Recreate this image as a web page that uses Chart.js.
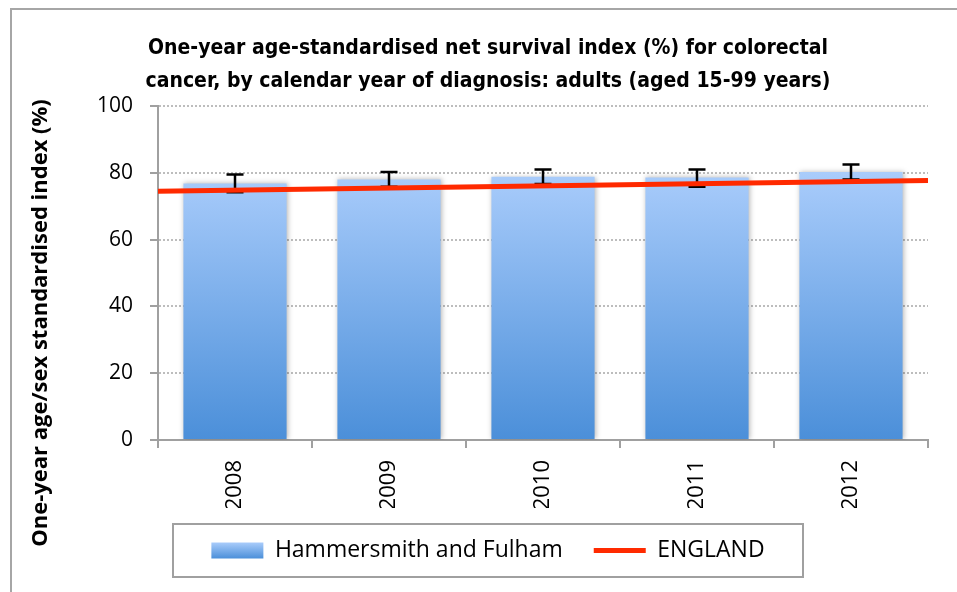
<!DOCTYPE html>
<html>
<head>
<meta charset="utf-8">
<script src="https://cdn.jsdelivr.net/npm/chart.js@4.4.1/dist/chart.umd.min.js"></script>
<style>
    body { margin: 0; background: #ffffff; }
    #frame {
        position: absolute; left: 10px; top: 8px; width: 960px; height: 600px;
        border: 2px solid #a6a6a6;
    }
    #wrap { position: absolute; left: 0; top: 0; width: 957px; height: 592px; }
</style>
</head>
<body>
<div id="frame"></div>
<div id="wrap"><canvas id="survival-chart"></canvas></div>
<script>
    // values
    const years = ['2008', '2009', '2010', '2011', '2012'];
    const localValues = [76.8, 78.0, 78.8, 78.6, 80.2];
    const localLower = [74.2, 75.8, 76.6, 75.8, 78.0];
    const localUpper = [79.5, 80.2, 81.0, 81.0, 82.5];
    const englandX = [2007.5, 2012.5];
    const englandValues = [74.5, 77.7];

    const LEGEND_PAD = 31;
    const LEGEND_FONT = 23;
    const baseFont = 'Open Sans, sans-serif';

    function barGradient(chart, top, bottom) {
        const g = chart.ctx.createLinearGradient(0, top, 0, bottom);
        g.addColorStop(0, '#a9ccfb');
        g.addColorStop(1, '#4b8fd9');
        return g;
    }

    // soft shadow round the bars, then the error bars on top of them
    const errorBars = {
        id: 'errorBars',
        beforeDatasetDraw(chart, args) {
            if (args.index !== 0) return;
            const ctx = chart.ctx;
            ctx.save();
            ctx.shadowColor = 'rgba(0,0,0,0.28)';
            ctx.shadowBlur = 5;
            ctx.shadowOffsetX = 1;
            ctx.shadowOffsetY = 0;
        },
        afterDatasetDraw(chart, args) {
            if (args.index !== 0) return;
            const ctx = chart.ctx;
            ctx.restore();
            const x = chart.scales.x;
            const y = chart.scales.y;
            ctx.save();
            ctx.strokeStyle = '#000000';
            ctx.lineWidth = 2.5;
            localValues.forEach((v, i) => {
                const px = x.getPixelForValue(i);
                const lo = y.getPixelForValue(localLower[i]);
                const hi = y.getPixelForValue(localUpper[i]);
                ctx.beginPath();
                ctx.moveTo(px, lo);
                ctx.lineTo(px, hi);
                ctx.moveTo(px - 8.5, hi);
                ctx.lineTo(px + 8.5, hi);
                ctx.moveTo(px - 8.5, lo);
                ctx.lineTo(px + 8.5, lo);
                ctx.stroke();
            });
            ctx.restore();
        }
    };

    // excel style frame round the legend
    const legendFrame = {
        id: 'legendFrame',
        beforeDraw(chart) {
            const lg = chart.legend;
            if (!lg) return;
            const ctx = chart.ctx;
            const cx = (lg.left + lg.right) / 2;
            const cy = lg.top + LEGEND_PAD + LEGEND_FONT / 2;
            ctx.save();
            ctx.fillStyle = '#ffffff';
            ctx.strokeStyle = '#a0a0a0';
            ctx.lineWidth = 2;
            ctx.fillRect(cx - 315, cy - 26.5, 630, 53);
            ctx.strokeRect(cx - 315, cy - 26.5, 630, 53);
            ctx.restore();
        }
    };

    // y axis title, centred on the whole frame like the original
    const yTitle = {
        id: 'yTitle',
        afterDraw(chart) {
            const ctx = chart.ctx;
            ctx.save();
            ctx.translate(41, 323);
            ctx.rotate(-Math.PI / 2);
            ctx.font = 'bold 22px ' + baseFont;
            ctx.fillStyle = '#000000';
            ctx.textAlign = 'center';
            ctx.textBaseline = 'middle';
            ctx.fillText('One-year age/sex standardised index (%)', 0, 0);
            ctx.restore();
        }
    };

    new Chart(document.getElementById('survival-chart'), {
        type: 'bar',
        data: {
            labels: years,
            datasets: [{
                label: 'Hammersmith and Fulham',
                data: localValues,
                order: 1,
                grouped: false,
                backgroundColor: (c) => {
                    const chart = c.chart;
                    if (!chart.chartArea) return '#7fb0ef';
                    return barGradient(chart, chart.scales.y.getPixelForValue(80), chart.chartArea.bottom);
                },
                borderWidth: 0,
                categoryPercentage: 1,
                barPercentage: 0.67
            }, {
                type: 'line',
                label: 'ENGLAND',
                xAxisID: 'x2',
                order: 0,
                data: englandX.map((v, i) => ({x: v, y: englandValues[i]})),
                borderColor: '#ff2a00',
                backgroundColor: '#ff2a00',
                borderWidth: 5,
                pointRadius: 0,
                fill: false
            }]
        },
        options: {
            responsive: true,
            maintainAspectRatio: false,
            animation: false,
            events: [],
            layout: {
                padding: {left: 48, right: 29, top: 0, bottom: 20}
            },
            plugins: {
                tooltip: {enabled: false},
                title: {
                    display: true,
                    text: ['One-year age-standardised net survival index (%) for colorectal',
                        'cancer, by calendar year of diagnosis: adults (aged 15-99 years)'],
                    color: '#000000',
                    font: {
                        family: '"DejaVu Sans Condensed", "DejaVu Sans", sans-serif',
                        size: 21,
                        weight: 'bold',
                        lineHeight: 1.57
                    },
                    padding: {top: 32, bottom: 8}
                },
                legend: {
                    position: 'bottom',
                    labels: {
                        usePointStyle: true,
                        pointStyleWidth: 52,
                        boxWidth: 52,
                        boxHeight: 16,
                        padding: LEGEND_PAD,
                        color: '#000000',
                        font: {family: baseFont, size: LEGEND_FONT},
                        generateLabels(chart) {
                            const items = Chart.defaults.plugins.legend.labels.generateLabels(chart);
                            items.sort((a, b) => a.datasetIndex - b.datasetIndex);
                            const lg = chart.legend;
                            items.forEach(item => {
                                if (item.datasetIndex === 0) {
                                    item.pointStyle = 'rect';
                                    if (lg && lg.top !== undefined) {
                                        const top = lg.top + LEGEND_PAD + LEGEND_FONT / 2 - 8;
                                        item.fillStyle = barGradient(chart, top, top + 16);
                                    }
                                } else {
                                    item.pointStyle = 'line';
                                }
                            });
                            return items;
                        }
                    }
                }
            },
            scales: {
                x: {
                    type: 'category',
                    grid: {
                        drawOnChartArea: false,
                        drawTicks: true,
                        tickLength: 8,
                        color: '#a0a0a0',
                        lineWidth: 2,
                        offset: true
                    },
                    border: {color: '#a0a0a0', width: 2},
                    ticks: {
                        minRotation: 90,
                        maxRotation: 90,
                        padding: 12,
                        color: '#000000',
                        font: {family: baseFont, size: 22}
                    },
                    afterFit(scale) {
                        scale.height = 68;
                    }
                },
                x2: {
                    type: 'linear',
                    display: false,
                    offset: false,
                    min: 2007.5,
                    max: 2012.5
                },
                y: {
                    min: 0,
                    max: 100,
                    ticks: {
                        stepSize: 20,
                        padding: 17,
                        color: '#000000',
                        font: {family: baseFont, size: 21}
                    },
                    grid: {
                        color: '#bdbdbd',
                        lineWidth: 2,
                        tickLength: 8,
                        tickColor: '#a0a0a0',
                        tickWidth: 2
                    },
                    border: {color: '#a0a0a0', width: 2, dash: [2, 2]},
                    afterFit(scale) {
                        scale.width = 110;
                    }
                }
            }
        },
        plugins: [errorBars, legendFrame, yTitle]
    });
</script>
</body>
</html>
